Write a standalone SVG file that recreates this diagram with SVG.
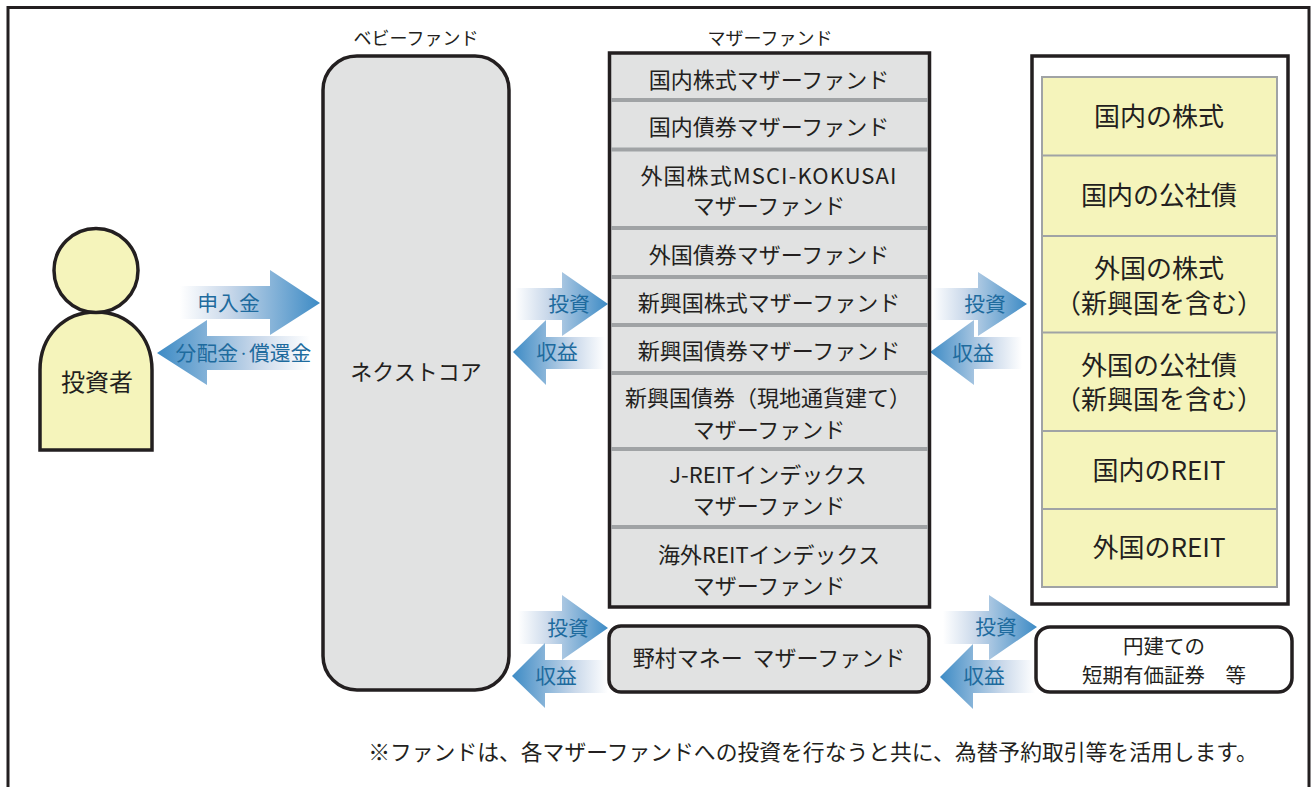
<svg xmlns="http://www.w3.org/2000/svg" width="1313" height="787" viewBox="0 0 1313 787">
<style>
text{font-family:"Noto Sans CJK JP","Noto Sans",sans-serif;fill:#231f20;text-anchor:middle}
.t22{font-size:22px}.t24{font-size:24px}.t26{font-size:26px}.t20{font-size:20.500px}.t18{font-size:18px}
.b{font-size:20.800px;fill:#1e6b9e}
.dot{font-size:11px}
.dv{stroke:#a0a3a5;stroke-width:4;fill:none}
.dy{stroke:#a0a3a5;stroke-width:2;fill:none}
.g{fill:#e1e2e2;stroke:#231f20}
.y{fill:#f5f4bb}
</style>
<defs>
<linearGradient id="ar" x1="0" x2="1" y1="0" y2="0"><stop offset="0" stop-color="#fff"/><stop offset="0.35" stop-color="#c9d8ea"/><stop offset="1" stop-color="#3d8bc5"/></linearGradient>
<linearGradient id="al" x1="1" x2="0" y1="0" y2="0"><stop offset="0" stop-color="#fff"/><stop offset="0.35" stop-color="#c9d8ea"/><stop offset="1" stop-color="#3d8bc5"/></linearGradient>
</defs>
<rect id="frame" x="8" y="7.500" width="1301" height="800" fill="#fff" stroke="#231f20" stroke-width="3"/>
<g id="connectors">
<path fill="url(#ar)" d="M180 286H270V270L320 303L270 335V319H180Z"/>
<path fill="url(#al)" d="M157 353L207 320V336H310V370H207V385Z"/>
<path fill="url(#ar)" d="M515 288H562V272L608 304L562 336V320H515Z"/>
<path fill="url(#al)" d="M513 352L546 320V337H605V369H546V385Z"/>
<path fill="url(#ar)" d="M932 288H978V272L1027 304L978 336V320H932Z"/>
<path fill="url(#al)" d="M930 352L974 320V337H1022V369H974V385Z"/>
<path fill="url(#ar)" d="M518 611H562V595L608 628L562 660V644H518Z"/>
<path fill="url(#al)" d="M512 676L545 643V660H608V693H545V708Z"/>
<path fill="url(#ar)" d="M943 611H989V595L1037 627L989 660V644H943Z"/>
<path fill="url(#al)" d="M940 677L973 644V660H1035V693H973V709Z"/>
<text class="b" x="228.500" y="310.500">申入金</text>
<text class="b" x="243.500" y="360.500">分配金<tspan class="dot" dy="-3">・</tspan><tspan dy="3">償還金</tspan></text>
<text class="b" x="569" y="311.500">投資</text>
<text class="b" x="557" y="359.500">収益</text>
<text class="b" x="985" y="311.500">投資</text>
<text class="b" x="973" y="360.500">収益</text>
<text class="b" x="568" y="635.500">投資</text>
<text class="b" x="556" y="683.500">収益</text>
<text class="b" x="996" y="634.500">投資</text>
<text class="b" x="984" y="683.500">収益</text>
</g>
<g id="investor">
<path class="y" stroke="#231f20" stroke-width="3.500" d="M40 450V370C40 335 65 312 96 312C127 312 152 335 152 370V450Z"/>
<circle class="y" stroke="#231f20" stroke-width="3.500" cx="96" cy="270.500" r="42"/>
<text class="t24" x="97" y="391">投資者</text>
</g>
<g id="baby">
<text class="t18" x="416" y="45">ベビーファンド</text>
<rect class="g" stroke-width="3.500" x="323" y="56" width="186" height="634" rx="34"/>
<text class="t22" x="416" y="380">ネクストコア</text>
</g>
<g id="mother">
<text class="t18" x="770" y="45">マザーファンド</text>
<rect class="g" stroke-width="3.500" x="609.500" y="53" width="320" height="554"/>
<path class="dv" d="M611 100H928M611 149.500H928M611 228H928M611 277H928M611 325H928M611 373H928M611 449H928M611 527H928"/>
<text class="t22" x="769" y="88">国内株式マザーファンド</text>
<text class="t22" x="769" y="135">国内債券マザーファンド</text>
<text class="t22" x="769" y="184" letter-spacing="1.100">外国株式MSCI-KOKUSAI</text>
<text class="t22" x="769" y="214">マザーファンド</text>
<text class="t22" x="769" y="263">外国債券マザーファンド</text>
<text class="t22" x="769" y="311">新興国株式マザーファンド</text>
<text class="t22" x="769" y="359">新興国債券マザーファンド</text>
<text class="t22" x="768" y="406">新興国債券（現地通貨建て）</text>
<text class="t22" x="769" y="438">マザーファンド</text>
<text class="t22" x="768" y="483">J-REITインデックス</text>
<text class="t22" x="769" y="514">マザーファンド</text>
<text class="t22" x="769" y="563">海外REITインデックス</text>
<text class="t22" x="769" y="594">マザーファンド</text>
</g>
<g id="nomura">
<rect class="g" stroke-width="3.500" x="609" y="626" width="320" height="66" rx="12"/>
<text class="t22" x="769" y="666" xml:space="preserve">野村マネー  マザーファンド</text>
</g>
<g id="assets">
<rect fill="#fff" stroke="#231f20" stroke-width="3.500" x="1032" y="56" width="256" height="548"/>
<rect class="y dy" x="1042" y="77" width="235" height="510"/>
<path class="dy" d="M1042 155.500H1277M1042 236H1277M1042 332.500H1277M1042 431H1277M1042 509H1277"/>
<text class="t26" x="1159" y="126">国内の株式</text>
<text class="t26" x="1159" y="205">国内の公社債</text>
<text class="t26" x="1159" y="278">外国の株式</text>
<text class="t26" x="1159" y="313">（新興国を含む）</text>
<text class="t26" x="1159" y="375">外国の公社債</text>
<text class="t26" x="1159" y="409">（新興国を含む）</text>
<text class="t26" x="1159" y="480">国内のREIT</text>
<text class="t26" x="1159" y="557">外国のREIT</text>
</g>
<g id="short">
<rect fill="#fff" stroke="#231f20" stroke-width="3.500" x="1036" y="627" width="256" height="65" rx="14" />
<text class="t20" x="1164" y="654">円建ての</text>
<text class="t20" x="1164" y="683">短期有価証券　等</text>
</g>
<text id="note" class="t22" style="font-size:21.800px" x="813" y="760">※ファンドは、各マザーファンドへの投資を行なうと共に、為替予約取引等を活用します。</text>
</svg>
